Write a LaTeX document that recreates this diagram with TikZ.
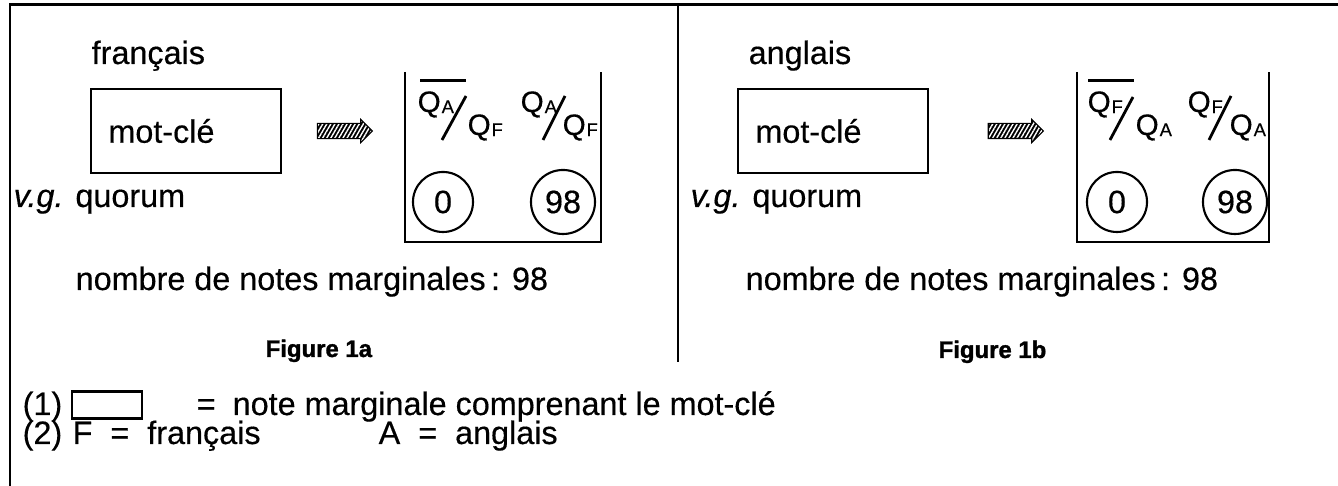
\documentclass[tikz,border=0pt]{standalone}
\usepackage{fontspec}
\setmainfont{Liberation Sans}[FakeBold=0.4, BoldFeatures={FakeBold=1.4}]
\usepackage{tikz}
\usetikzlibrary{positioning,shapes.arrows,patterns.meta}

\newcommand{\qsub}[2]{\mbox{#1\kern0.3pt\raisebox{-0.3pt}{\fontsize{5.2}{6}\selectfont #2}}}

\begin{document}
\begin{tikzpicture}[x=0.01cm, y=-0.01cm,
  lbl/.style={font=\fontsize{9.2}{10}\selectfont, inner sep=0pt, anchor=base west},
  qtxt/.style={font=\fontsize{8.4}{9}\selectfont, inner sep=0pt, anchor=base west},
  fig/.style={font=\fontsize{6.8}{7}\selectfont\bfseries, inner sep=0pt, anchor=base west},
  motbox/.style={draw, line width=0.7pt, minimum width=1.9cm, minimum height=0.84cm, inner sep=0pt},
  tally/.style={draw, circle, line width=0.6pt, inner sep=0pt,
                font=\fontsize{9.2}{10}\selectfont},
  hatch/.style={single arrow, minimum height=0.55cm, text height=0.07cm, text depth=0.07cm,
                single arrow head extend=0.04cm, inner sep=0pt, draw, line width=0.3pt,
                preaction={fill=black},
                pattern={Lines[angle=60,distance=1pt,line width=0.4pt]}, pattern color=white},
  frame/.style={line width=0.85pt},
  binline/.style={line width=0.8pt}
]
\useasboundingbox (0,0) rectangle (1338,486);

% outer frame and divider
\draw[frame] (1338,5) -- (10,5) -- (10,486);
\draw[frame] (678,5) -- (678,362);

% Figure 1a
\node[lbl] (langA) at (91,64) {français};
\node[motbox] (motA) at (186,131) {};
\node[lbl, anchor=west] (motAtxt) at ([xshift=0.18cm]motA.west) {mot-clé};
\node[lbl] (vgA) at (13,207) {\textit{v.g.} quorum};
\node[hatch] (arrA) at (341,131) {};
\draw[binline] (405,72) |- (601,242) -- (601,72);
\node[qtxt] (fA1n) at (417,112) {\qsub{Q}{A}};
\draw[binline] (fA1n.north west) ++(3,-10) -- ++(46,0);
\node[qtxt] (fA1d) at (467,135) {\qsub{Q}{F}};
\draw[binline] (442,140) -- (466,96);
\node[qtxt] (fA2n) at (520,112) {\qsub{Q}{A}};
\node[qtxt] (fA2d) at (562,135) {\qsub{Q}{F}};
\draw[binline] (543,140) -- (565,96);
\node[tally, minimum size=0.6cm] (zeroA) at (443,202) {0};
\node[tally, minimum size=0.64cm] (nineA) at (563,202) {98};
\node[lbl] (nbA) at (75,290) {nombre de notes marginales\,: 98};
\node[fig] (figA) at (265,357) {Figure 1a};

% Figure 1b
\node[lbl] (langB) at (748,64) {anglais};
\node[motbox] (motB) at (833,131) {};
\node[lbl, anchor=west] (motBtxt) at ([xshift=0.18cm]motB.west) {mot-clé};
\node[lbl] (vgB) at (690,207) {\textit{v.g.} quorum};
\node[hatch] (arrB) at (1012,131) {};
\draw[binline] (1077,72) |- (1269,242) -- (1269,72);
\node[qtxt] (fB1n) at (1087,112) {\qsub{Q}{F}};
\draw[binline] (fB1n.north west) ++(1,-10) -- ++(46,0);
\node[qtxt] (fB1d) at (1135,135) {\qsub{Q}{A}};
\draw[binline] (1110,140) -- (1133,97);
\node[qtxt] (fB2n) at (1187,112) {\qsub{Q}{F}};
\node[qtxt] (fB2d) at (1229,135) {\qsub{Q}{A}};
\draw[binline] (1209,140) -- (1231,96);
\node[tally, minimum size=0.6cm] (zeroB) at (1117,202) {0};
\node[tally, minimum size=0.64cm] (nineB) at (1235,202) {98};
\node[lbl] (nbB) at (745,290) {nombre de notes marginales\,: 98};
\node[fig] (figB) at (938,358) {Figure 1b};

% legend
\node[lbl] (key1n) at (22,415) {(1)};
\node[draw, line width=0.7pt, minimum width=0.7cm, minimum height=0.27cm, inner sep=0pt] (keybox) at (107,405) {};
\node[lbl] (key1eq) at (196,415) {=};
\node[lbl] (key1) at (232,415) {note marginale comprenant le mot-clé};
\node[lbl] (key2n) at (22,444) {(2)};
\node[lbl] (key2f) at (72,444) {F\ \ =\ \ français};
\node[lbl] (key2a) at (378,444) {A\ \ =\ \ anglais};
\end{tikzpicture}
\end{document}
